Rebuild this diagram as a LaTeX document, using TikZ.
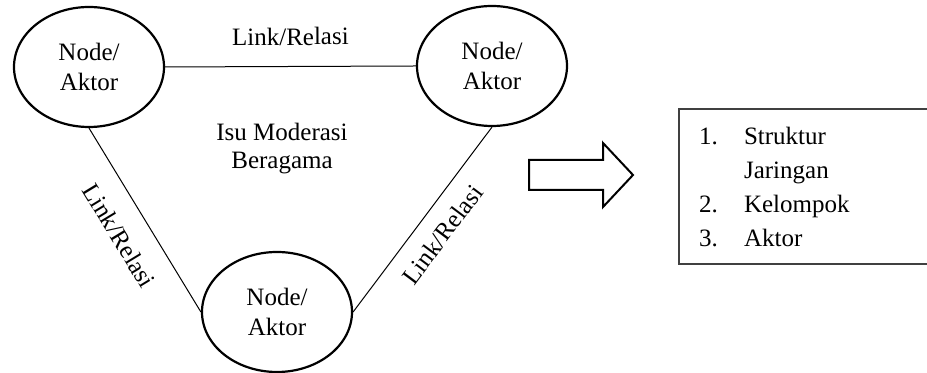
\documentclass[tikz,border=0pt]{standalone}
\usepackage{fontspec}
\setmainfont{Liberation Serif}
\usetikzlibrary{shapes.geometric}

\begin{document}
\begin{tikzpicture}[x=0.5pt,y=0.5pt,
    every node/.style={font=\fontsize{12.5}{15}\selectfont},
    aktor/.style={ellipse, draw, line width=1.1pt, minimum width=75pt,
      minimum height=60pt, inner sep=0pt, align=center},
    relasi/.style={line width=0.5pt},
    label/.style={midway, sloped}]
  \useasboundingbox (0,0) rectangle (927,373);

  \node[aktor] (kiri) at (89,306) {Node/\\Aktor};
  \node[aktor] (kanan) at (492,307) {Node/\\Aktor};
  \node[aktor] (bawah) at (277,61) {Node/\\Aktor};

  \draw[relasi] (kiri.east) -- (kanan.west)
    node[label, above=7pt] {Link/Relasi};
  \draw[relasi] (kiri.south) -- (bawah.west)
    node[label, below=7pt] {Link/Relasi};
  \draw[relasi] (bawah.east) -- (kanan.south)
    node[label, below=4.5pt] {Link/Relasi};

  \node[align=center, font=\fontsize{12.5}{14}\selectfont] (isu) at (282,224)
    {Isu Moderasi\\Beragama};

  \draw[line width=1pt] (529,213) -- (603,213) -- (603,230) -- (633,198)
    -- (603,166) -- (603,183) -- (529,183) -- cycle;

  \draw[line width=0.8pt, black!75] (940,264) -- (679,264) -- (679,109) -- (940,109);
  \node[anchor=west, align=left, font=\fontsize{12.5}{17}\selectfont] (daftar) at (692,186)
    {\makebox[22.5pt][l]{1.}Struktur\\
     \hspace*{22.5pt}Jaringan\\
     \makebox[22.5pt][l]{2.}Kelompok\\
     \makebox[22.5pt][l]{3.}Aktor};
\end{tikzpicture}
\end{document}
